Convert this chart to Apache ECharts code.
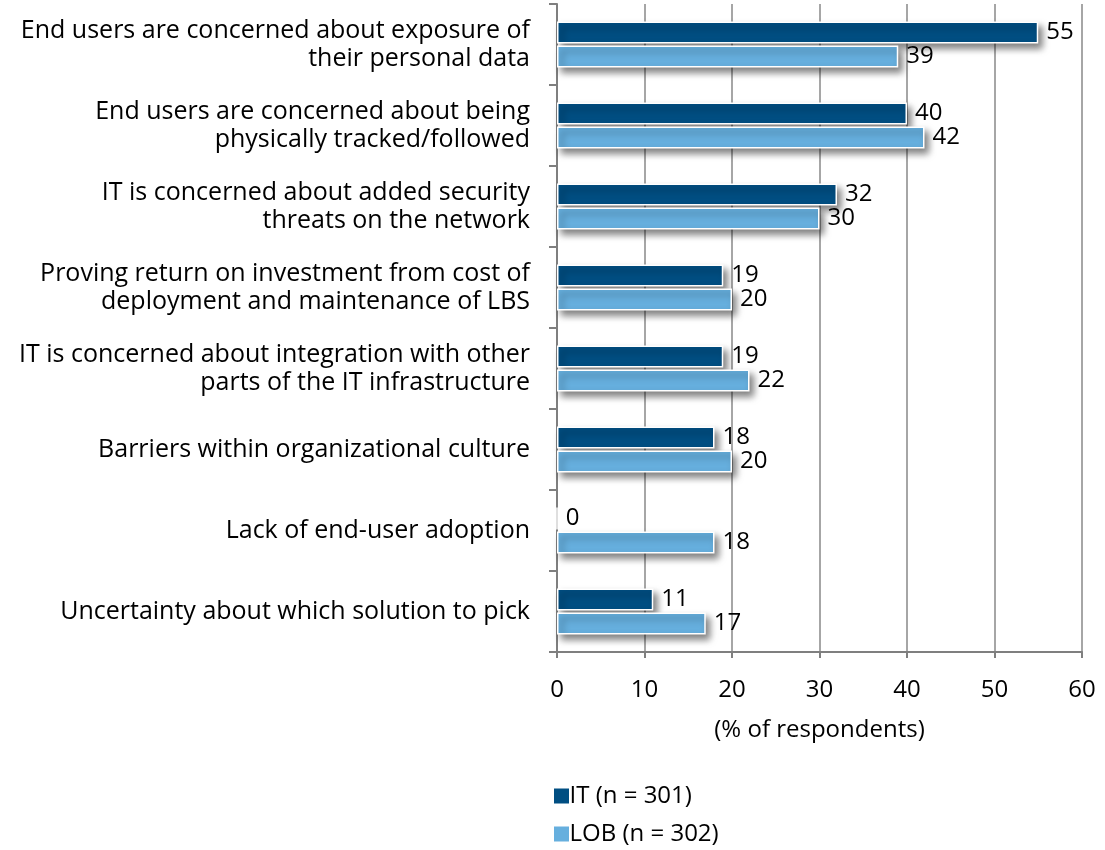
<!DOCTYPE html>
<html>
<head>
<meta charset="utf-8">
<script src="https://cdn.jsdelivr.net/npm/echarts@6/dist/echarts.min.js"></script>
<style>
  html, body { margin: 0; padding: 0; background: #fff; }
  #main { width: 1105px; height: 850px; }
</style>
</head>
<body>
<div id="main"></div>
<script type="text/javascript">
    var categories = [
        'End users are concerned about exposure of\ntheir personal data',
        'End users are concerned about being\nphysically tracked/followed',
        'IT is concerned about added security\nthreats on the network',
        'Proving return on investment from cost of\ndeployment and maintenance of LBS',
        'IT is concerned about integration with other\nparts of the IT infrastructure',
        'Barriers within organizational culture',
        'Lack of end-user adoption',
        'Uncertainty about which solution to pick'
    ];
    var itValues = [55, 40, 32, 19, 19, 18, 0, 11];
    var lobValues = [39, 42, 30, 20, 22, 20, 18, 17];
    var seriesNames = ['IT (n = 301)', 'LOB (n = 302)'];

    var font = 'Open Sans';
    var barStyle = function (color) {
        return {
            color: color,
            borderColor: '#fff',
            borderWidth: 1.5,
            shadowColor: 'rgba(0,0,0,0.5)',
            shadowBlur: 7,
            shadowOffsetX: 4,
            shadowOffsetY: 5
        };
    };
    var labelStyle = {
        show: true,
        position: 'right',
        distance: 8,
        color: '#000',
        fontFamily: font,
        fontSize: 24
    };
    // a zero-length bar draws no shadow
    var toItems = function (values) {
        return values.map(function (v) {
            return v === 0 ? { value: v, itemStyle: { shadowBlur: 0, shadowColor: 'transparent' } } : v;
        });
    };

    var myChart = echarts.init(document.getElementById('main'));
    myChart.setOption({
        animation: false,
        textStyle: { fontFamily: font },
        grid: { left: 557, right: 23, top: 4, bottom: 198, containLabel: false },
        legend: {
            orient: 'vertical',
            left: 548,
            top: 778,
            height: 90,
            icon: 'rect',
            itemWidth: 16,
            itemHeight: 16,
            itemGap: 12,
            itemStyle: { borderColor: '#fff', borderWidth: 1 },
            textStyle: { fontFamily: font, fontSize: 24, lineHeight: 26, color: '#000', padding: [0, 0, 0, -5] },
            data: seriesNames
        },
        xAxis: {
            type: 'value',
            min: 0,
            max: 60,
            interval: 10,
            name: '(% of respondents)',
            nameLocation: 'middle',
            nameGap: 66,
            nameTextStyle: { fontFamily: font, fontSize: 24, color: '#000' },
            axisLine: { show: true, lineStyle: { color: '#7f7f7f', width: 2 } },
            axisTick: { show: true, length: 6, lineStyle: { color: '#7f7f7f', width: 2 } },
            axisLabel: { fontFamily: font, fontSize: 24, color: '#000', margin: 26 },
            splitLine: { show: true, lineStyle: { color: '#a6a6a6', width: 2 } }
        },
        yAxis: {
            type: 'category',
            inverse: true,
            data: categories,
            axisLine: { show: true, lineStyle: { color: '#7f7f7f', width: 2 } },
            axisTick: { show: true, inside: false, length: 8, lineStyle: { color: '#7f7f7f', width: 2 } },
            axisLabel: {
                fontFamily: font,
                fontSize: 25,
                color: '#000',
                align: 'right',
                margin: 27,
                lineHeight: 28
            }
        },
        series: [
            {
                name: seriesNames[0],
                type: 'bar',
                data: toItems(itValues),
                barWidth: 22,
                barGap: '8%',
                itemStyle: barStyle('#004e82'),
                label: labelStyle
            },
            {
                name: seriesNames[1],
                type: 'bar',
                data: toItems(lobValues),
                barWidth: 22,
                itemStyle: barStyle('#66afde'),
                label: labelStyle
            }
        ]
    });
</script>
</body>
</html>
